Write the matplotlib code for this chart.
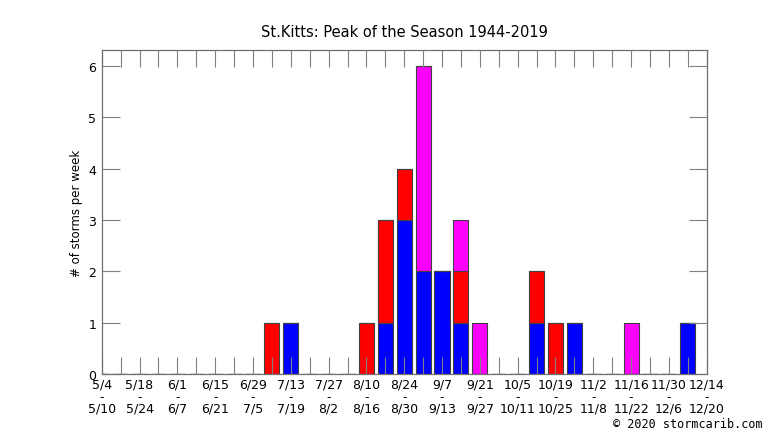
import matplotlib
matplotlib.use('Agg')
import matplotlib.pyplot as plt
import numpy as np

# weekly counts, week 0 = 5/4 ... week 31 = 12/7
blue = [0, 0, 0, 0, 0, 0, 0, 0, 0, 0, 1, 0, 0, 0, 0, 1,
        3, 2, 2, 1, 0, 0, 0, 1, 0, 1, 0, 0, 0, 0, 0, 1]
red = [0, 0, 0, 0, 0, 0, 0, 0, 0, 1, 0, 0, 0, 0, 1, 2,
       1, 0, 0, 1, 0, 0, 0, 1, 1, 0, 0, 0, 0, 0, 0, 0]
magenta = [0, 0, 0, 0, 0, 0, 0, 0, 0, 0, 0, 0, 0, 0, 0, 0,
           0, 4, 0, 1, 1, 0, 0, 0, 0, 0, 0, 0, 1, 0, 0, 0]

label_start = ['5/4', '5/18', '6/1', '6/15', '6/29', '7/13', '7/27', '8/10', '8/24',
               '9/7', '9/21', '10/5', '10/19', '11/2', '11/16', '11/30', '12/14']
label_end = ['5/10', '5/24', '6/7', '6/21', '7/5', '7/19', '8/2', '8/16', '8/30',
             '9/13', '9/27', '10/11', '10/25', '11/8', '11/22', '12/6', '12/20']

weeks = np.arange(len(blue))
blue = np.array(blue)
red = np.array(red)
magenta = np.array(magenta)

fig = plt.figure(figsize=(7.66, 4.31), dpi=100)
ax = fig.add_axes([0.1328, 0.1299, 0.7898, 0.7518])

edge = '#404040'
ax.bar(weeks, blue, width=0.8, color='#0000ff', edgecolor=edge, linewidth=0.8)
ax.bar(weeks, red, width=0.8, bottom=blue, color='#ff0000', edgecolor=edge, linewidth=0.8)
ax.bar(weeks, magenta, width=0.8, bottom=blue + red, color='#ff00ff', edgecolor=edge, linewidth=0.8)

ax.set_xlim(0, 32)
ax.set_ylim(0, 6.31)

ax.set_xticks(np.arange(0, 33))
xl = [''] * 33
for i, (a, b) in enumerate(zip(label_start, label_end)):
    xl[2 * i] = a + '\n-\n' + b
ax.set_xticklabels(xl, fontsize=9)
for t in ax.get_xticklabels():
    t.set_linespacing(0.92)
ax.set_yticks(range(0, 7))
ax.set_yticklabels([str(v) for v in range(0, 7)], fontsize=9)

ax.tick_params(axis='x', direction='in', length=12.2, width=0.8, color='#808080',
               top=True, bottom=True, pad=2.5)
ax.tick_params(axis='y', direction='in', length=13, width=0.8, color='#808080',
               left=True, right=True, pad=4)

for s in ax.spines.values():
    s.set_color('#707070')
    s.set_linewidth(0.9)

ax.set_title('St.Kitts: Peak of the Season 1944-2019', fontsize=10.5, pad=10)
ax.set_ylabel('# of storms per week', fontsize=8.5, labelpad=4)

fig.text(0.995, 0.0, '\u00a9 2020 stormcarib.com', ha='right', va='bottom',
         fontsize=8.5, family='DejaVu Sans Mono')

fig.savefig('out.png', dpi=100)
